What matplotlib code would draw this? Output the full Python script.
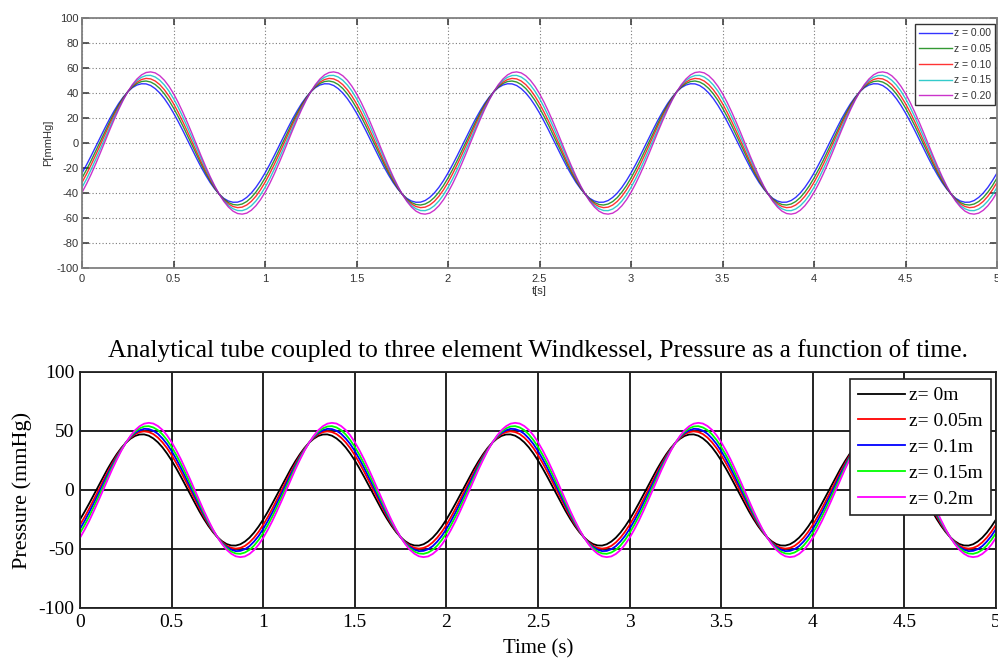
import numpy as np
import matplotlib
matplotlib.use("Agg")
import matplotlib.pyplot as plt
from matplotlib.ticker import FuncFormatter, MultipleLocator

# Pressure over one 1 s cardiac period, sampled every 0.025 s (mmHg);
# the signal is periodic, so each period is repeated over the 5 s window.
sample_step = 0.025
n_periods = 5

# --- upper panel: pressure at positions z along the tube ---
top_labels = ["z = 0.00", "z = 0.05", "z = 0.10", "z = 0.15", "z = 0.20"]
top_colors = ["#0000ff", "#008000", "#ff0000", "#00bfbf", "#bf00bf"]
top_z000 = [-24.0, -17.3, -10.2, -2.8, 4.7, 12.0, 19.1, 25.6, 31.6, 36.7,
            41.0, 44.3, 46.4, 47.4, 47.3, 46.0, 43.5, 40.0, 35.5, 30.1,
            24.0, 17.3, 10.2, 2.8, -4.7, -12.0, -19.1, -25.6, -31.6, -36.7,
            -41.0, -44.3, -46.4, -47.4, -47.3, -46.0, -43.5, -40.0, -35.5, -30.1]
top_z005 = [-28.0, -21.2, -14.0, -6.3, 1.4, 9.2, 16.7, 23.8, 30.3, 36.1,
            41.0, 44.9, 47.6, 49.2, 49.6, 48.8, 46.8, 43.6, 39.3, 34.1,
            28.0, 21.2, 14.0, 6.3, -1.4, -9.2, -16.7, -23.8, -30.3, -36.1,
            -41.0, -44.9, -47.6, -49.2, -49.6, -48.8, -46.8, -43.6, -39.3, -34.1]
top_z010 = [-31.5, -24.7, -17.3, -9.5, -1.4, 6.7, 14.7, 22.2, 29.3, 35.6,
            41.0, 45.4, 48.7, 50.8, 51.7, 51.3, 49.6, 46.7, 42.6, 37.5,
            31.5, 24.7, 17.3, 9.5, 1.4, -6.7, -14.7, -22.2, -29.3, -35.6,
            -41.0, -45.4, -48.7, -50.8, -51.7, -51.3, -49.6, -46.7, -42.6, -37.5]
top_z015 = [-35.5, -28.7, -21.1, -13.0, -4.6, 3.9, 12.3, 20.4, 28.0, 34.9,
            41.0, 46.0, 50.0, 52.6, 54.0, 54.1, 52.8, 50.2, 46.4, 41.5,
            35.5, 28.7, 21.1, 13.0, 4.6, -3.9, -12.3, -20.4, -28.0, -34.9,
            -41.0, -46.0, -50.0, -52.6, -54.0, -54.1, -52.8, -50.2, -46.4, -41.5]
top_z020 = [-39.5, -32.6, -24.9, -16.6, -7.9, 1.1, 10.0, 18.6, 26.8, 34.3,
            41.0, 46.7, 51.2, 54.5, 56.4, 56.9, 56.1, 53.8, 50.2, 45.4,
            39.5, 32.6, 24.9, 16.6, 7.9, -1.1, -10.0, -18.6, -26.8, -34.3,
            -41.0, -46.7, -51.2, -54.5, -56.4, -56.9, -56.1, -53.8, -50.2, -45.4]

# --- lower panel: analytical tube coupled to a three element Windkessel ---
bot_labels = ["z= 0m", "z= 0.05m", "z= 0.1m", "z= 0.15m", "z= 0.2m"]
bot_colors = ["#000000", "#ff0000", "#0000ff", "#00ff00", "#ff00ff"]
bot_z000 = [-25.0, -18.4, -11.4, -4.1, 3.3, 10.6, 17.7, 24.3, 30.3, 35.6,
            40.0, 43.4, 45.8, 47.0, 47.1, 46.0, 43.7, 40.4, 36.1, 30.9,
            25.0, 18.4, 11.4, 4.1, -3.3, -10.6, -17.7, -24.3, -30.3, -35.6,
            -40.0, -43.4, -45.8, -47.0, -47.1, -46.0, -43.7, -40.4, -36.1, -30.9]
bot_z005 = [-29.5, -22.9, -15.7, -8.1, -0.4, 7.4, 15.0, 22.2, 28.9, 34.9,
            40.0, 44.1, 47.2, 49.0, 49.7, 49.1, 47.4, 44.4, 40.4, 35.4,
            29.5, 22.9, 15.7, 8.1, 0.4, -7.4, -15.0, -22.2, -28.9, -34.9,
            -40.0, -44.1, -47.2, -49.0, -49.7, -49.1, -47.4, -44.4, -40.4, -35.4]
bot_z010 = [-33.0, -26.3, -19.0, -11.2, -3.2, 5.0, 13.0, 20.7, 27.8, 34.3,
            40.0, 44.7, 48.2, 50.6, 51.8, 51.6, 50.2, 47.6, 43.7, 38.9,
            33.0, 26.3, 19.0, 11.2, 3.2, -5.0, -13.0, -20.7, -27.8, -34.3,
            -40.0, -44.7, -48.2, -50.6, -51.8, -51.6, -50.2, -47.6, -43.7, -38.9]
bot_z015 = [-36.5, -29.8, -22.4, -14.4, -6.0, 2.5, 10.9, 19.1, 26.8, 33.8,
            40.0, 45.2, 49.3, 52.2, 53.8, 54.1, 53.0, 50.7, 47.1, 42.3,
            36.5, 29.8, 22.4, 14.4, 6.0, -2.5, -10.9, -19.1, -26.8, -33.8,
            -40.0, -45.2, -49.3, -52.2, -53.8, -54.1, -53.0, -50.7, -47.1, -42.3]
bot_z020 = [-40.5, -33.7, -26.2, -17.9, -9.3, -0.4, 8.6, 17.3, 25.5, 33.2,
            40.0, 45.8, 50.6, 54.0, 56.2, 56.9, 56.3, 54.2, 50.9, 46.3,
            40.5, 33.7, 26.2, 17.9, 9.3, 0.4, -8.6, -17.3, -25.5, -33.2,
            -40.0, -45.8, -50.6, -54.0, -56.2, -56.9, -56.3, -54.2, -50.9, -46.3]

top_series = [top_z000, top_z005, top_z010, top_z015, top_z020]
bot_series = [bot_z000, bot_z005, bot_z010, bot_z015, bot_z020]

title = "Analytical tube coupled to three element Windkessel, Pressure as a function of time."


def full_trace(period):
    vals = np.append(np.tile(period, n_periods), period[0])
    t = np.arange(len(vals)) * sample_step
    return t, vals


fmt = FuncFormatter(lambda v, _: f"{v:g}")

fig = plt.figure(figsize=(9.98, 6.6), dpi=100)

# ---------------- upper panel ----------------
sans = "Liberation Sans"
ax1 = fig.add_axes([0.0822, 0.5939, 0.9168, 0.3788])
for vals, lab, col in zip(top_series, top_labels, top_colors):
    t, y = full_trace(vals)
    ax1.plot(t, y, color=col, lw=1.0, alpha=0.8, label=lab)
ax1.set_xlim(0, 5)
ax1.set_ylim(-100, 100)
ax1.xaxis.set_major_locator(MultipleLocator(0.5))
ax1.yaxis.set_major_locator(MultipleLocator(20))
ax1.xaxis.set_major_formatter(fmt)
ax1.yaxis.set_major_formatter(fmt)
ax1.grid(True, ls=(0, (1, 2)), color="#7a7a7a", lw=0.8)
ax1.tick_params(direction="in", length=5, width=1.2, color="#404040",
                top=True, right=True, labelsize=8, labelcolor="#333333", pad=2.5)
ax1.tick_params(axis="x", pad=4)
for lbl in ax1.get_xticklabels() + ax1.get_yticklabels():
    lbl.set_family(sans)
for sp in ax1.spines.values():
    sp.set_color("#808080")
    sp.set_linewidth(1.3)
ax1.set_xlabel("t[s]", fontsize=8, family=sans, color="#333333", labelpad=2)
ax1.set_ylabel("P[mmHg]", fontsize=8, family=sans, color="#333333", labelpad=2)
leg1 = ax1.legend(loc="upper right", bbox_to_anchor=(0.9978, 0.976),
                  prop={"family": sans, "size": 7.5}, handlelength=3.1,
                  handletextpad=0.2, labelspacing=0.55, borderpad=0.4,
                  borderaxespad=0, fancybox=False, framealpha=1)
leg1.get_frame().set_edgecolor("#333333")
leg1.get_frame().set_linewidth(1.0)
for txt in leg1.get_texts():
    txt.set_color("#333333")

# ---------------- lower panel ----------------
serif = "Liberation Serif"
ax2 = fig.add_axes([0.0802, 0.0788, 0.9178, 0.3576])
for vals, lab, col in zip(bot_series, bot_labels, bot_colors):
    t, y = full_trace(vals)
    ax2.plot(t, y, color=col, lw=1.3, label=lab)
ax2.set_xlim(0, 5)
ax2.set_ylim(-100, 100)
ax2.xaxis.set_major_locator(MultipleLocator(0.5))
ax2.yaxis.set_major_locator(MultipleLocator(50))
ax2.xaxis.set_major_formatter(fmt)
ax2.yaxis.set_major_formatter(fmt)
ax2.grid(True, ls="-", color="#111111", lw=1.3)
ax2.set_axisbelow(True)
ax2.tick_params(direction="in", length=0, labelsize=14, pad=4)
for lbl in ax2.get_xticklabels() + ax2.get_yticklabels():
    lbl.set_family(serif)
for sp in ax2.spines.values():
    sp.set_color("#222222")
    sp.set_linewidth(1.3)
ax2.set_xlabel("Time (s)", fontsize=15, family=serif, labelpad=6)
ax2.set_ylabel("Pressure (mmHg)", fontsize=16, family=serif, labelpad=5)
ax2.set_title(title, fontsize=18.4, family=serif, pad=11)
leg2 = ax2.legend(loc="upper right", bbox_to_anchor=(0.9945, 0.970),
                  prop={"family": serif, "size": 14}, handlelength=2.4,
                  handletextpad=0.25, labelspacing=0.42, borderpad=0.4,
                  borderaxespad=0, fancybox=False, framealpha=1)
leg2.get_frame().set_edgecolor("#222222")
leg2.get_frame().set_linewidth(1.2)

fig.savefig("out.png", dpi=100)
